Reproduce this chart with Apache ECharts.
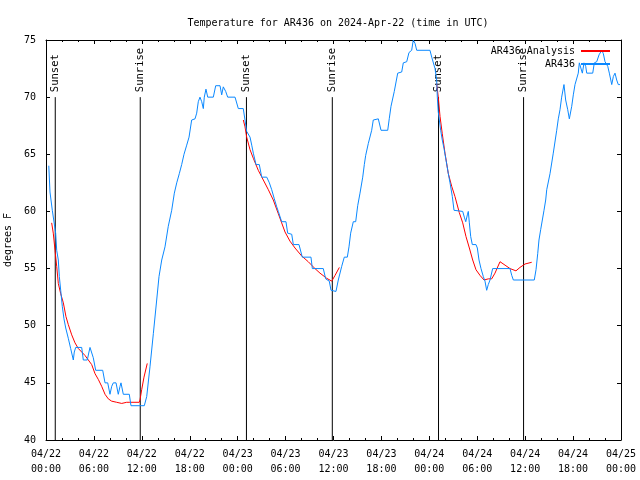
<!DOCTYPE html>
<html><head><meta charset="utf-8">
<script src="https://cdn.jsdelivr.net/npm/echarts@6/dist/echarts.min.js"></script>
<style>html,body{margin:0;padding:0;background:#fff}#c{width:640px;height:480px}</style>
</head><body><div id="c"></div>
<script>
// time in hours since 2024-04-22 00:00 UTC
const tickLabels = ['04/22\n00:00','04/22\n06:00','04/22\n12:00','04/22\n18:00','04/23\n00:00','04/23\n06:00','04/23\n12:00','04/23\n18:00','04/24\n00:00','04/24\n06:00','04/24\n12:00','04/24\n18:00','04/25\n00:00'];
const sunsetTimes = [1.16, 25.1, 49.15];
const sunriseTimes = [11.8, 35.85, 59.8];

const observed = [[0.35,64.0],[0.5,61.7],[0.79,60.1],[0.91,60.0],[1.21,58.1],[1.34,56.6],[1.54,55.75],[1.67,54.3],[1.84,53.1],[2.04,51.7],[2.25,50.6],[2.47,49.8],[2.79,48.9],[3.09,48.0],[3.42,47.0],[3.54,47.7],[3.72,48.1],[4.47,48.1],[4.67,47.0],[5.17,47.0],[5.38,47.7],[5.51,48.1],[5.7,48.0],[5.92,47.2],[6.22,46.1],[7.1,46.1],[7.39,45.0],[7.73,45.0],[8.01,44.0],[8.23,44.7],[8.43,45.0],[8.77,45.0],[9.05,44.0],[9.27,44.7],[9.39,45.0],[9.68,44.0],[10.43,44.0],[10.64,43.0],[12.31,43.0],[12.61,43.8],[13.02,46.4],[13.44,49.3],[13.86,52.25],[14.15,54.3],[14.49,55.75],[14.9,56.9],[15.31,58.7],[15.74,60.1],[16.07,61.6],[16.37,62.5],[16.69,63.3],[16.99,64.1],[17.28,65.0],[17.62,65.8],[17.91,66.5],[18.24,68.0],[18.66,68.1],[18.87,68.6],[19.07,69.6],[19.28,70.0],[19.5,69.6],[19.7,69.0],[19.82,70.0],[20.03,70.7],[20.25,70.0],[20.95,70.0],[21.25,71.0],[21.79,71.0],[22.0,70.2],[22.2,70.9],[22.5,70.5],[22.75,70.0],[23.67,70.0],[24.08,69.0],[24.7,69.0],[24.92,68.0],[25.13,67.0],[25.55,66.5],[25.76,65.8],[25.96,65.1],[26.3,64.1],[26.71,64.1],[27.01,63.0],[27.64,63.0],[27.97,62.5],[28.26,61.9],[28.59,61.1],[28.89,60.4],[29.09,60.0],[29.34,60.0],[29.51,59.1],[30.05,59.1],[30.26,58.1],[30.77,58.0],[30.97,57.1],[31.68,57.1],[32.09,56.0],[33.18,56.0],[33.35,55.0],[34.72,55.0],[35.02,54.1],[35.47,53.9],[35.69,53.1],[36.31,53.0],[36.6,54.0],[37.03,55.2],[37.35,56.0],[37.73,56.0],[37.94,56.9],[38.15,58.1],[38.48,59.1],[38.78,59.1],[39.03,60.5],[39.32,61.6],[39.66,63.0],[39.86,64.1],[40.03,64.9],[40.36,65.95],[40.78,67.1],[40.98,68.0],[41.61,68.1],[41.95,67.1],[42.79,67.1],[42.99,68.15],[43.2,69.2],[43.61,70.5],[44.04,72.1],[44.54,72.2],[44.74,73.0],[45.17,73.1],[45.45,73.9],[45.79,74.1],[45.99,75.0],[46.21,74.7],[46.42,74.1],[48.08,74.1],[48.3,73.5],[48.71,72.5],[48.92,71.5],[49.0,70.0],[49.12,68.7],[49.25,68.0],[49.42,67.1],[49.62,66.25],[49.84,65.5],[50.05,64.65],[50.38,63.3],[50.59,62.5],[50.88,61.3],[51.09,60.1],[51.13,60.0],[52.18,60.0],[52.38,59.5],[52.56,59.1],[52.76,59.7],[52.88,60.0],[53.01,59.0],[53.18,57.8],[53.38,57.1],[53.84,57.1],[54.01,56.8],[54.22,55.75],[54.47,55.0],[54.76,54.3],[54.97,53.9],[55.18,53.1],[55.38,53.6],[55.6,54.0],[55.93,55.0],[58.1,55.0],[58.32,54.4],[58.52,54.0],[61.14,54.0],[61.36,54.9],[61.57,56.3],[61.73,57.5],[61.94,58.4],[62.15,59.25],[62.36,60.1],[62.57,61.0],[62.7,61.9],[63.11,63.3],[63.52,65.1],[63.95,67.1],[64.15,68.1],[64.36,68.9],[64.57,70.0],[64.86,71.1],[65.07,69.75],[65.33,68.9],[65.53,68.1],[65.83,69.2],[66.03,70.2],[66.24,71.1],[66.45,71.2],[66.65,72.1],[66.78,73.0],[66.95,73.1],[67.16,72.1],[67.37,73.0],[67.58,72.7],[67.71,72.1],[68.46,72.1],[68.66,73.0],[68.96,73.1],[69.25,73.7],[69.59,74.1],[69.79,73.8],[70.0,73.1],[70.34,72.7],[70.54,72.1],[70.84,71.1],[71.04,71.8],[71.25,72.1],[71.46,71.5],[71.66,71.1],[71.87,71.1]];

const analysis1 = [[0.71,59.0],[0.91,58.1],[1.13,56.6],[1.34,55.2],[1.54,53.7],[1.84,52.8],[2.17,52.0],[2.5,50.8],[2.79,50.1],[3.22,49.2],[3.63,48.5],[4.05,48.0],[4.47,47.7],[4.88,47.4],[5.3,47.0],[5.72,46.6],[6.14,45.8],[6.55,45.3],[6.97,44.7],[7.39,44.0],[7.8,43.6],[8.22,43.4],[8.85,43.3],[9.48,43.2],[10.1,43.3],[10.5,43.3],[11.68,43.3],[11.77,43.5],[11.98,44.4],[12.27,45.5],[12.68,46.7]];
const analysis2 = [[24.71,68.0],[24.92,67.4],[25.13,66.5],[25.55,65.4],[25.96,64.65],[26.58,63.6],[27.21,62.75],[27.84,61.9],[28.46,61.0],[29.09,59.8],[29.51,59.0],[29.93,58.2],[30.55,57.4],[31.18,56.8],[32.02,56.1],[32.84,55.6],[33.68,55.0],[34.31,54.6],[35.15,54.15],[35.78,53.9],[36.19,54.4],[36.73,55.1]];
const analysis3 = [[48.92,71.2],[49.12,70.0],[49.34,68.3],[49.62,66.8],[49.96,65.1],[50.38,63.3],[50.8,62.2],[51.21,61.3],[51.75,59.9],[52.18,59.0],[52.59,57.8],[53.01,56.8],[53.43,55.75],[53.84,54.9],[54.35,54.4],[54.85,54.0],[55.39,54.1],[55.81,54.1],[56.22,54.6],[56.85,55.6],[57.48,55.3],[58.1,55.0],[58.85,54.8],[59.35,55.1],[59.98,55.4],[60.82,55.55]];

const FONT = 'DejaVu Sans Mono';
const BLUE = '#0a88ff';
const RED = '#ff0000';

function eventSeries(t, name) {
  return {
    type: 'line', name: name, silent: true, animation: false,
    symbol: 'circle', symbolSize: 0, showSymbol: true,
    itemStyle: {color: '#000'},
    lineStyle: {color: '#000', width: 1}, z: 1,
    data: [[t, 40], {value: [t, 70],
      label: {show: true, position: 'top', distance: 5, rotate: 90, align: 'left', verticalAlign: 'middle',
        formatter: name, color: '#000', fontFamily: FONT, fontSize: 10.5}}]
  };
}

const series = [];
sunsetTimes.forEach(t => series.push(eventSeries(t, 'Sunset')));
sunriseTimes.forEach(t => series.push(eventSeries(t, 'Sunrise')));
[analysis1, analysis2, analysis3].forEach(d => series.push({
  type: 'line', name: 'AR436 Analysis', data: d, symbol: 'none', animation: false, z: 2,
  lineStyle: {color: RED, width: 1}, itemStyle: {color: RED}
}));
series.push({
  type: 'line', name: 'AR436', data: observed, symbol: 'none', animation: false, z: 3,
  lineStyle: {color: BLUE, width: 1}, itemStyle: {color: BLUE}
});

const axisCommonX = {
  type: 'value', min: 0, max: 72, interval: 6,
  axisLine: {show: true, onZero: false, lineStyle: {color: '#000', width: 1}},
  axisTick: {show: true, inside: true, length: 4, lineStyle: {color: '#000'}},
  minorTick: {show: true, splitNumber: 3, length: 2, lineStyle: {color: '#000'}},
  splitLine: {show: false}
};
const axisCommonY = {
  type: 'value', min: 40, max: 75, interval: 5,
  axisLine: {show: true, onZero: false, lineStyle: {color: '#000', width: 1}},
  axisTick: {show: true, inside: true, length: 4, lineStyle: {color: '#000'}},
  splitLine: {show: false}
};

const chart = echarts.init(document.getElementById('c'), null, {renderer: 'canvas'});
chart.setOption({
  backgroundColor: '#fff',
  animation: false,
  title: {
    text: 'Temperature for AR436 on 2024-Apr-22 (time in UTC)',
    left: 333, top: 13, textAlign: 'center',
    textStyle: {fontFamily: FONT, fontSize: 10, fontWeight: 'normal', color: '#000'}
  },
  legend: {
    data: [{name: 'AR436 Analysis', icon: 'rect'}, {name: 'AR436', icon: 'rect'}],
    orient: 'vertical', right: 25, top: 41, align: 'right',
    itemWidth: 29, itemHeight: 2, itemGap: 3,
    textStyle: {fontFamily: FONT, fontSize: 10, color: '#000', padding: [0, 1, 0, 0]}
  },
  grid: {left: 46, right: 19, top: 40, bottom: 40, containLabel: false, outerBoundsMode: 'none'},
  xAxis: [
    Object.assign({}, axisCommonX, {
      position: 'bottom',
      axisLabel: {show: true, margin: 7, lineHeight: 15, fontFamily: FONT, fontSize: 10, color: '#000',
        formatter: v => tickLabels[Math.round(v / 6)] || ''}
    }),
    Object.assign({}, axisCommonX, {position: 'top', axisLabel: {show: false}})
  ],
  yAxis: [
    Object.assign({}, axisCommonY, {
      position: 'left',
      name: 'degrees F', nameLocation: 'middle', nameGap: 32, nameRotate: 90,
      nameTextStyle: {fontFamily: FONT, fontSize: 10, color: '#000'},
      axisLabel: {show: true, margin: 10, fontFamily: FONT, fontSize: 10, color: '#000'}
    }),
    Object.assign({}, axisCommonY, {position: 'right', axisLabel: {show: false}})
  ],
  series: series
});
</script>
</body></html>
